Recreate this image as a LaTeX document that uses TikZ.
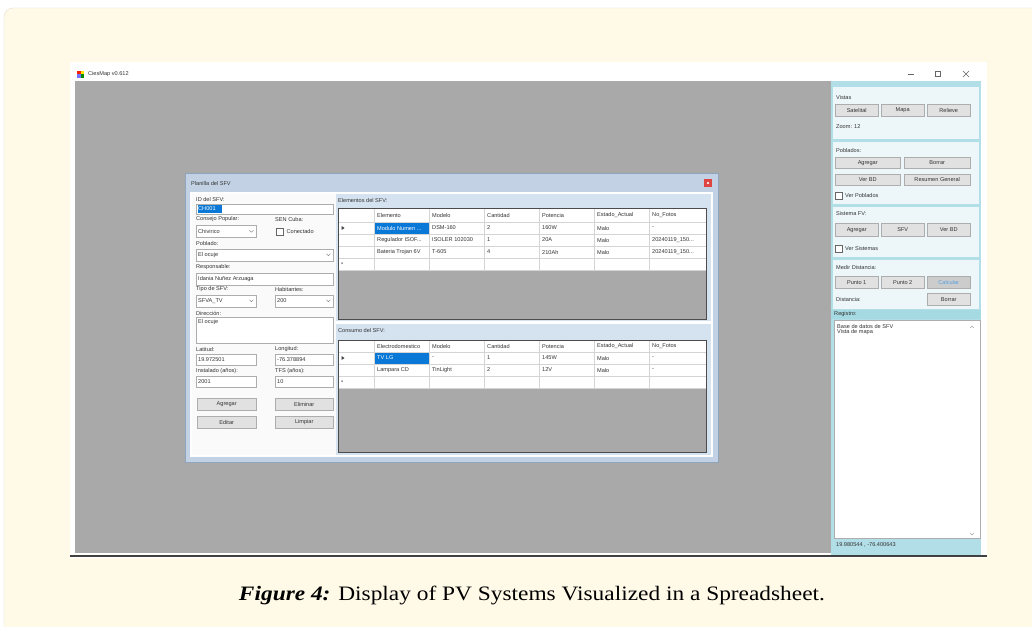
\documentclass[tikz,border=0pt]{standalone}
\usepackage{fontspec}
\setmainfont{Liberation Serif}
\newfontfamily\guifont{Liberation Sans}
\newfontfamily\capfont[FakeStretch=1.14]{Liberation Serif}
\usetikzlibrary{positioning}
\definecolor{cream}{HTML}{FFFAE8}
\definecolor{creamline}{HTML}{E2DECF}
\definecolor{deskgray}{HTML}{A9A9A9}
\definecolor{panelline}{HTML}{B2DEE7}
\definecolor{panelbg}{HTML}{EDF7FA}
\definecolor{regband}{HTML}{A6DAE3}
\definecolor{btnfill}{HTML}{E1E1E1}
\definecolor{btnline}{HTML}{ADADAD}
\definecolor{dlgframe}{HTML}{C2D2E4}
\definecolor{dlgline}{HTML}{8EA5BE}
\definecolor{tablepanel}{HTML}{D5E2EF}
\definecolor{gridline}{HTML}{D4D4D4}
\definecolor{selblue}{HTML}{0A78D7}
\definecolor{closered}{HTML}{DE4540}
\definecolor{guitext}{HTML}{333333}
\newcommand{\guisize}{\guifont\fontsize{5.6}{6.6}\selectfont}
\newcommand{\trunc}{...}
\tikzset{
	guilbl/.style={
		font=\guisize,
		text=guitext,
		inner sep=0pt,
		anchor=west
	},
	btn/.style={
		draw=btnline,
		fill=btnfill,
		font=\guisize,
		text=guitext,
		inner sep=0pt,
		anchor=north west
	},
	field/.style={
		draw=btnline,
		fill=white,
		inner sep=0pt,
		anchor=north west
	},
	tickbox/.style={
		draw=black!60,
		fill=white,
		inner sep=0pt,
		minimum size=6.5pt,
		anchor=north west
	}
}
\newcommand{\chevron}[1]{\draw[black!55] ([xshift=-7pt,yshift=1pt]#1.east) -- ([xshift=-5pt,yshift=-1pt]#1.east) -- ([xshift=-3pt,yshift=1pt]#1.east);}

\begin{document}
\begin{tikzpicture}[x=1pt,y=-1pt]
	\useasboundingbox (0,0) rectangle (1032,626);
	\fill[white] (0,0) rectangle (1032,626);
	\draw[creamline, fill=cream, rounded corners=9pt] (4,8) rectangle (1060,660);
	
	% application window
	\fill[white] (70,62) rectangle (987,558);
	\fill[red!75!orange] (77,70.5) rectangle (80.5,74);
	\fill[yellow!85!orange] (80.5,70.5) rectangle (84,74);
	\fill[blue!55] (77,74) rectangle (80.5,77.5);
	\fill[green!55!black] (80.5,74) rectangle (84,77.5);
	\node[guilbl] (apptitle) at (88,74) {CiesMap v0.612};
	\draw[black!60] (908,74) -- (914,74);
	\draw[black!60] (935,71) rectangle (940.5,76.5);
	\draw[black!60] (963,71) -- (969,77) (963,77) -- (969,71);
	\fill[deskgray] (75,81) rectangle (831,553);
	\draw[black!75, line width=1.2pt] (70,556) -- (987,556);
	
	% right panel
	\fill[panelline] (831,81) rectangle (981,555);
	\fill[panelbg] (833,87) rectangle (979,139);
	\fill[panelbg] (833,142) rectangle (979,204);
	\fill[panelbg] (833,207) rectangle (979,257);
	\fill[panelbg] (833,260) rectangle (979,309);
	\fill[regband] (831,310) rectangle (981,319);
	
	\node[guilbl] (vistas) at (836,97) {Vistas};
	\node[btn, minimum width=43, minimum height=12] (satelital) at (835,104) {Satelital};
	\node[btn, minimum width=43, minimum height=12] (mapa) at (881,104) {Mapa};
	\node[btn, minimum width=43, minimum height=12] (relieve) at (927,104) {Relieve};
	\node[guilbl] (zoom) at (836,127) {Zoom: 12};
	
	\node[guilbl] (poblados) at (836,150) {Poblados:};
	\node[btn, minimum width=65, minimum height=11] (pagregar) at (835,157) {Agregar};
	\node[btn, minimum width=66, minimum height=11] (pborrar) at (904,157) {Borrar};
	\node[btn, minimum width=65, minimum height=11] (pverbd) at (835,174) {Ver BD};
	\node[btn, minimum width=66, minimum height=11] (resumen) at (904,174) {Resumen General};
	\node[tickbox] (chkpob) at (835,192) {};
	\node[guilbl, right=3pt of chkpob] (verpob) {Ver Poblados};
	
	\node[guilbl] (sistema) at (836,213) {Sistema FV:};
	\node[btn, minimum width=43, minimum height=13] (sagregar) at (835,223) {Agregar};
	\node[btn, minimum width=43, minimum height=13] (sfv) at (881,223) {SFV};
	\node[btn, minimum width=43, minimum height=13] (sverbd) at (927,223) {Ver BD};
	\node[tickbox] (chksis) at (835,245) {};
	\node[guilbl, right=3pt of chksis] (versis) {Ver Sistemas};
	
	\node[guilbl] (medir) at (836,267) {Medir Distancia:};
	\node[btn, minimum width=43, minimum height=12] (punto1) at (835,276) {Punto 1};
	\node[btn, minimum width=43, minimum height=12] (punto2) at (881,276) {Punto 2};
	\node[btn, fill=black!20, text=selblue!70, minimum width=43, minimum height=12] (calcular) at (927,276) {Calcular};
	\node[guilbl] (distancia) at (836,299) {Distancia:};
	\node[btn, minimum width=43, minimum height=12] (dborrar) at (927,293) {Borrar};
	
	\node[guilbl] (registro) at (834,314.5) {Registro:};
	\node[field, minimum width=146, minimum height=218] (logbox) at (834,320) {};
	\node[guilbl] (log1) at (837,326) {Base de datos de SFV};
	\node[guilbl] (log2) at (837,332) {Vista de mapa};
	\draw[black!35] (970,328) -- (972,326) -- (974,328);
	\draw[black!35] (970,533) -- (972,535) -- (974,533);
	\node[guilbl] (coords) at (836,545) {19.980544 , -76.400643};
	
	% dialog
	\draw[dlgline, fill=dlgframe] (185,173) rectangle (718,462);
	\node[guilbl] (dlgtitle) at (191,183) {Planilla del SFV};
	\fill[closered] (704,179) rectangle (712,187);
	\draw[white, line width=0.6pt] (707,182) -- (709,184) (707,184) -- (709,182);
	\fill[white] (190,192) rectangle (713,457);
	\fill[black!2] (192,194) rectangle (336,455);
	\fill[tablepanel] (336,194) rectangle (711,321);
	\fill[tablepanel] (336,324) rectangle (711,455);
	
	% form fields
	\node[guilbl] (idlbl) at (196,199) {ID del SFV:};
	\node[field, minimum width=137, minimum height=10] (idbox) at (196,203.5) {};
	\fill[selblue] (197.5,205) rectangle (222,212.5);
	\node[guilbl, text=white, right=2pt of idbox.west] (idval) {CH001};
	
	\node[guilbl] (conslbl) at (196,219.5) {Consejo Popular:};
	\node[guilbl] (senlbl) at (275,219.5) {SEN Cuba:};
	\node[field, minimum width=60, minimum height=12] (consejo) at (196,225) {};
	\node[guilbl, right=2pt of consejo.west] (consval) {Chivirico};
	\chevron{consejo}
	\node[tickbox, minimum size=7pt] (chksen) at (276,228) {};
	\node[guilbl, right=3pt of chksen] (conectado) {Conectado};
	
	\node[guilbl] (poblbl) at (196,243) {Poblado:};
	\node[field, minimum width=137, minimum height=12] (poblado) at (196,248.5) {};
	\node[guilbl, right=2pt of poblado.west] (pobval) {El ocuje};
	\chevron{poblado}
	
	\node[guilbl] (resplbl) at (196,267) {Responsable:};
	\node[field, minimum width=137, minimum height=12] (resp) at (196,272.5) {};
	\node[guilbl, right=2pt of resp.west] (respval) {Idania Nuñez Arzuaga};
	
	\node[guilbl] (tipolbl) at (196,289) {Tipo de SFV:};
	\node[guilbl] (hablbl) at (275,289) {Habitantes:};
	\node[field, minimum width=60, minimum height=12] (tipo) at (196,294.5) {};
	\node[guilbl, right=2pt of tipo.west] (tipoval) {SFVA\_TV};
	\chevron{tipo}
	\node[field, minimum width=58, minimum height=12] (hab) at (275,294.5) {};
	\node[guilbl, right=2pt of hab.west] (habval) {200};
	\chevron{hab}
	
	\node[guilbl] (dirlbl) at (196,313) {Dirección:};
	\node[field, minimum width=137, minimum height=26] (dir) at (196,317) {};
	\node[guilbl] (dirval) at (198,322) {El ocuje};
	
	\node[guilbl] (latlbl) at (196,349) {Latitud:};
	\node[guilbl] (lonlbl) at (275,349) {Longitud:};
	\node[field, minimum width=60, minimum height=11] (lat) at (196,354) {};
	\node[guilbl, right=2pt of lat.west] (latval) {19.972501};
	\node[field, minimum width=58, minimum height=11] (lon) at (275,354) {};
	\node[guilbl, right=2pt of lon.west] (lonval) {-76.378894};
	
	\node[guilbl] (instlbl) at (196,371.5) {Instalado (años):};
	\node[guilbl] (tfslbl) at (275,371.5) {TFS (años):};
	\node[field, minimum width=60, minimum height=11] (inst) at (196,376) {};
	\node[guilbl, right=2pt of inst.west] (instval) {2001};
	\node[field, minimum width=58, minimum height=11] (tfs) at (275,376) {};
	\node[guilbl, right=2pt of tfs.west] (tfsval) {10};
	
	\node[btn, minimum width=59, minimum height=12] (agregar) at (197,398) {Agregar};
	\node[btn, minimum width=58, minimum height=12] (eliminar) at (275,398) {Eliminar};
	\node[btn, minimum width=59, minimum height=12] (editar) at (197,416) {Editar};
	\node[btn, minimum width=58, minimum height=12] (limpiar) at (275,416) {Limpiar};
	
	% table of elements
	\node[guilbl] (elemlbl) at (338,200) {Elementos del SFV:};
	\fill[white] (338,208) rectangle (706,270);
	\fill[deskgray] (338,270) rectangle (706,319);
	\foreach \cx in {374,429,484,539,594,649}
		\draw[gridline] (\cx,208) -- (\cx,270);
	\foreach \ry in {222,234,246,258,270}
		\draw[gridline] (338,\ry) -- (706,\ry);
	\fill[selblue] (374.5,222.5) rectangle (428.5,233.5);
	\draw[black!70] (338,208) rectangle (706,319);
	\foreach \cx/\txt in {374/Elemento,429/Modelo,484/Cantidad,539/Potencia,594/Estado\_Actual,649/No\_Fotos}
		\node[guilbl] (eh\cx) at (\cx+3,215) {\txt};
	\node[guilbl, text=white] (e1a) at (377,228) {Modulo Numen \trunc};
	\foreach \cx/\txt in {429/DSM-160,484/2,539/160W,594/Malo,649/-}
		\node[guilbl] (e1\cx) at (\cx+3,228) {\txt};
	\foreach \cx/\txt in {374/Regulador ISOF\trunc,429/ISOLER 102030,484/1,539/20A,594/Malo,649/20240119\_150\trunc}
		\node[guilbl] (e2\cx) at (\cx+3,240) {\txt};
	\foreach \cx/\txt in {374/Bateria Trojan 6V,429/T-605,484/4,539/210Ah,594/Malo,649/20240119\_150\trunc}
		\node[guilbl] (e3\cx) at (\cx+3,252) {\txt};
	\fill[black!75] (341.5,226) -- (344.5,228) -- (341.5,230) -- cycle;
	\node[guilbl] (enew) at (341,264.5) {*};
	
	% table of consumption
	\node[guilbl] (conslbl2) at (338,330) {Consumo del SFV:};
	\fill[white] (338,340) rectangle (706,388);
	\fill[deskgray] (338,388) rectangle (706,452);
	\foreach \cx in {374,429,484,539,594,649}
		\draw[gridline] (\cx,340) -- (\cx,388);
	\foreach \ry in {352,364,376,388}
		\draw[gridline] (338,\ry) -- (706,\ry);
	\fill[selblue] (374.5,352.5) rectangle (428.5,363.5);
	\draw[black!70] (338,340) rectangle (706,452);
	\foreach \cx/\txt in {374/Electrodomestico,429/Modelo,484/Cantidad,539/Potencia,594/Estado\_Actual,649/No\_Fotos}
		\node[guilbl] (ch\cx) at (\cx+3,346) {\txt};
	\node[guilbl, text=white] (c1a) at (377,358) {TV LG};
	\foreach \cx/\txt in {429/-,484/1,539/145W,594/Malo,649/-}
		\node[guilbl] (c1\cx) at (\cx+3,358) {\txt};
	\foreach \cx/\txt in {374/Lampara CD,429/TinLight,484/2,539/12V,594/Malo,649/-}
		\node[guilbl] (c2\cx) at (\cx+3,370) {\txt};
	\fill[black!75] (341.5,356) -- (344.5,358) -- (341.5,360) -- cycle;
	\node[guilbl] (cnew) at (341,382.5) {*};
	
	% caption
	\node[font=\capfont\fontsize{20.5}{23}\selectfont, inner sep=0pt] (caption) at (532,595) {\textbf{\textit{Figure 4:}} Display of PV Systems Visualized in a Spreadsheet.};
\end{tikzpicture}
\end{document}
